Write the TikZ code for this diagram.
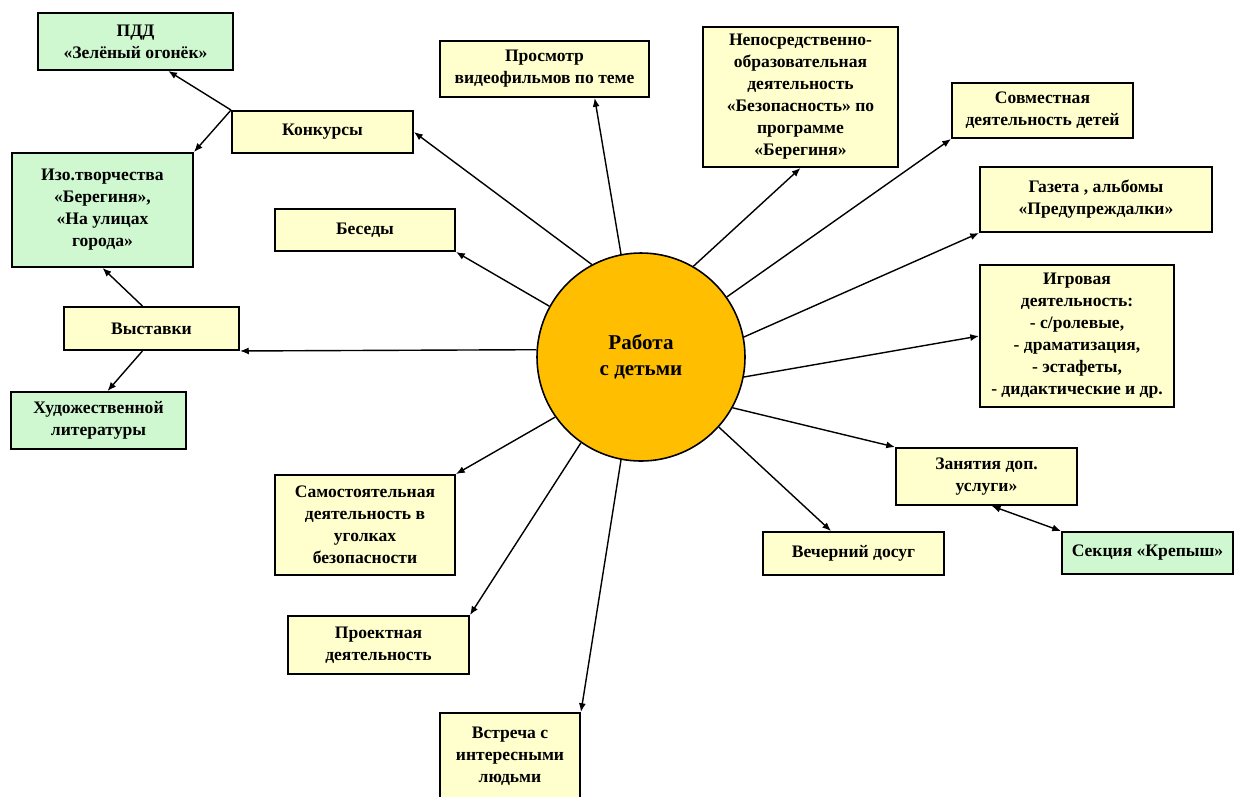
\documentclass[tikz,border=0pt]{standalone}
\usepackage{fontspec}
\setmainfont{Liberation Serif}
\usetikzlibrary{arrows.meta}
\definecolor{boxyellow}{RGB}{255,255,206}
\definecolor{boxgreen}{RGB}{208,248,208}
\definecolor{sunorange}{RGB}{255,190,0}

\begin{document}
\begin{tikzpicture}[x=0.02cm, y=-0.02cm,
  wh/.style 2 args={minimum width=#1*0.02cm, minimum height=#2*0.02cm},
  ybox/.style={draw=black, line width=1.1pt, fill=boxyellow, align=center, inner sep=1pt,
    font=\fontsize{10}{12.5}\selectfont\bfseries},
  gbox/.style={ybox, fill=boxgreen},
  sun/.style={circle, draw=black, line width=0.9pt, fill=sunorange, minimum size=208*0.02cm,
    align=center, font=\fontsize{12}{15}\selectfont\bfseries},
  ray/.style={-{Latex[length=5pt,width=4pt]}, line width=0.8pt}]

\useasboundingbox (0,0) rectangle (1236,796);

\node[sun] (sun) at (641,357) {Работа\\с детьми};

\node[gbox, wh={195}{57}] (pdd) at (135.5,41.5) {ПДД\\«Зелёный огонёк»};
\node[ybox, wh={181}{42}] (konk) at (322.5,132) {Конкурсы};
\node[gbox, wh={181}{114}] (izo) at (102.5,210) {Изо.творчества\\«Берегиня»,\\«На улицах\\города»};
\node[ybox, wh={180}{42}] (bes) at (365,230) {Беседы};
\node[ybox, wh={209}{56}] (prosm) at (544.5,69) {Просмотр\\видеофильмов по теме};
\node[ybox, wh={195}{140}] (nepo) at (800.5,97) {Непосредственно-\\образовательная\\деятельность\\«Безопасность» по\\программе\\«Берегиня»};
\node[ybox, wh={181}{55}] (sovm) at (1042.5,110.5) {Совместная\\деятельность детей};
\node[ybox, wh={232}{65}] (gaz) at (1096,199.5) {Газета , альбомы\\«Предупреждалки»};
\node[ybox, wh={194}{142}] (igr) at (1077,336) {Игровая\\деятельность:\\- с/ролевые,\\- драматизация,\\- эстафеты,\\- дидактические и др.};
\node[ybox, wh={175}{43}] (vyst) at (151.5,328.5) {Выставки};
\node[gbox, wh={175}{57}] (hud) at (98.5,420.5) {Художественной\\литературы};
\node[ybox, wh={180}{100}] (samo) at (365,525) {Самостоятельная\\деятельность в\\уголках\\безопасности};
\node[ybox, wh={181}{58}] (proekt) at (378.5,645) {Проектная\\деятельность};
\node[ybox, wh={140}{86}] (vstr) at (510,756) {Встреча с\\интересными\\людьми};
\node[ybox, wh={181}{57}] (zan) at (986.5,476.5) {Занятия доп.\\услуги»};
\node[ybox, wh={181}{43}] (vech) at (853.5,553.5) {Вечерний досуг};
\node[gbox, wh={171}{42}] (sek) at (1147.5,553) {Секция «Крепыш»};

\draw[ray] (sun.118) -- (konk.east);
\draw[ray] (sun.101) -- (prosm.-30);
\draw[ray] (sun.60) -- (nepo.south);
\draw[ray] (sun.151) -- (bes.south east);
\draw[ray] (sun.35) -- (sovm.south west);
\draw[ray] (sun.11) -- (gaz.south west);
\draw[ray] (sun.-11) -- (igr.west);
\draw[ray] (sun.-29) -- (zan.north west);
\draw[ray] (sun.-42) -- (vech.135);
\draw[ray] (sun.259) -- (vstr.north east);
\draw[ray] (sun.235) -- (proekt.north east);
\draw[ray] (sun.215) -- (samo.north east);
\draw[ray] (sun.176) -- (vyst.south east);

\draw[ray] (konk.north west) -- (pdd.-42);
\draw[ray] (konk.north west) -- (izo.north east);
\draw[ray] (vyst.112) -- (izo.south);
\draw[ray] (vyst.-112) -- (hud.73);
\draw[ray, {Latex[length=5pt,width=4pt]}-{Latex[length=5pt,width=4pt]}] (zan.-80) -- (sek.north west);

\end{tikzpicture}
\end{document}
